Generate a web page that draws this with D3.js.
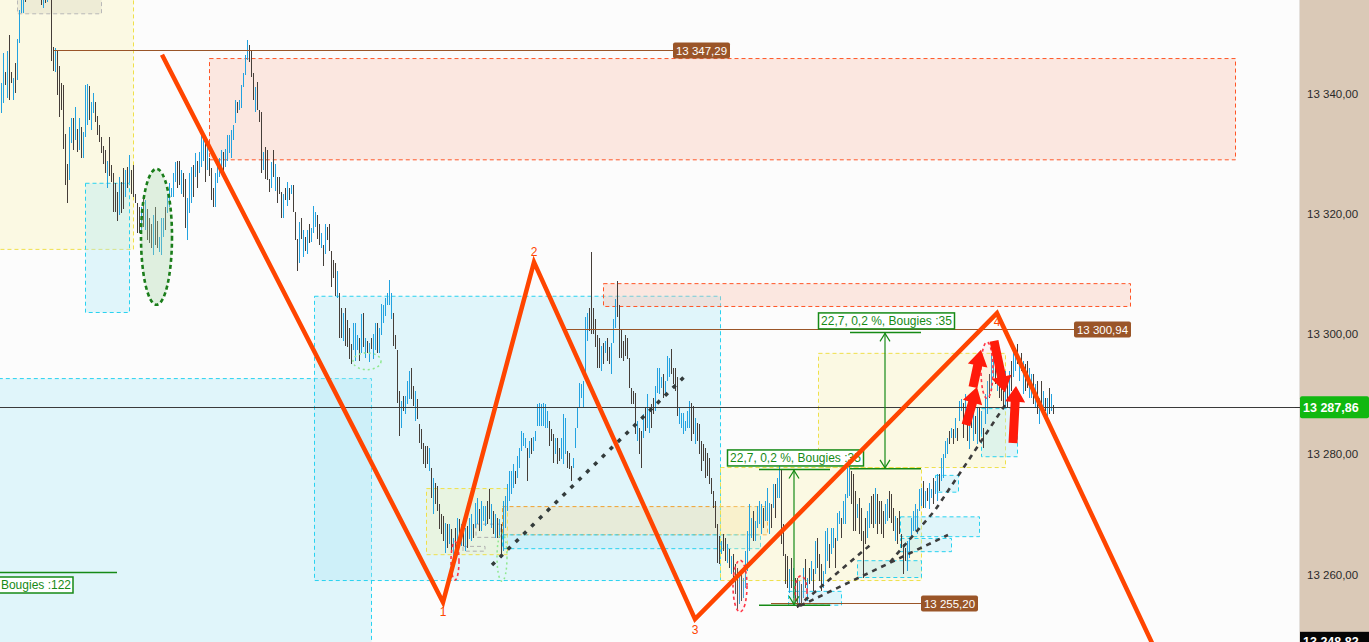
<!DOCTYPE html>
<html><head><meta charset="utf-8">
<script src="https://cdn.jsdelivr.net/npm/d3@7/dist/d3.min.js"></script>
<style>html,body{margin:0;padding:0;background:#fcfcfc;overflow:hidden}svg{display:block;font-family:"Liberation Sans",Arial,sans-serif}</style>
</head><body><svg id="c" width="1369" height="642"></svg>
<script>
// ---- bar data (high / low per bar, u = up bar, d = down bar) ----
const highs=[
13341.8,13346.8,13343.6,13347.1,13349.8,13343.6,13342.6,13345.1,13349.1,13353.9,
13356.4,13356.9,13356.4,13358.4,13360.2,13361.5,13359.8,13360.6,13359.2,13358.7,
13357.3,13356.9,13357.3,13357.3,13358.1,13356.1,13347.8,13347.6,13347.3,13344.6,
13341.8,13341.4,13333.3,13328.4,13334.4,13335.9,13335.9,13337.8,13334.1,13335.9,
13334.4,13333.6,13341.4,13341.6,13341.3,13338.6,13340.1,13338.6,13336.3,13334.8,
13332.8,13331.3,13330.6,13328.9,13332.8,13328.1,13326.8,13325.1,13323.6,13326.1,
13325.3,13327.6,13327.3,13327.8,13329.8,13327.3,13328.1,13323.4,13321.8,13321.1,
13321.1,13322.6,13322.3,13320.9,13319.4,13318.4,13319.8,13321.1,13318.9,13316.1,
13319.3,13319.4,13321.1,13323.4,13325.1,13324.3,13326.8,13328.6,13328.9,13328.9,
13327.3,13326.9,13325.9,13322.6,13326.8,13327.8,13328.1,13330.1,13328.9,13330.3,
13333.4,13332.8,13332.3,13331.4,13329.4,13327.6,13324.3,13326.8,13328.6,13329.4,
13330.6,13330.3,13330.9,13333.1,13333.1,13333.9,13334.8,13338.9,13338.6,13338.9,
13341.4,13343.4,13346.4,13348.9,13348.1,13347.3,13343.4,13341.1,13341.9,13337.3,
13336.9,13330.3,13331.1,13330.6,13325.9,13328.6,13330.6,13328.4,13326.1,13326.1,
13323.6,13323.4,13324.3,13325.3,13324.4,13324.8,13324.8,13320.3,13315.9,13318.6,
13319.4,13317.3,13316.1,13317.3,13318.4,13317.6,13321.4,13320.3,13319.8,13318.4,
13316.9,13314.8,13318.4,13317.8,13318.4,13313.9,13312.3,13311.9,13310.6,13306.8,
13304.4,13303.6,13304.4,13302.3,13301.1,13298.4,13301.9,13301.8,13299.8,13299.4,
13303.4,13303.6,13299.4,13298.9,13298.6,13299.4,13300.1,13301.9,13301.8,13301.1,
13305.1,13304.8,13306.1,13306.8,13309.1,13306.9,13303.6,13299.8,13297.3,13290.6,
13288.9,13289.8,13289.8,13292.3,13293.9,13294.4,13291.4,13290.6,13289.3,13285.1,
13284.3,13281.9,13281.4,13281.4,13281.1,13277.8,13276.1,13275.3,13274.8,13271.8,
13270.1,13269.8,13268.6,13268.4,13268.4,13267.6,13266.1,13267.8,13269.4,13269.3,
13268.4,13267.3,13267.8,13268.1,13269.4,13270.1,13268.4,13271.9,13272.8,13270.9,
13272.3,13271.4,13271.4,13272.3,13274.3,13271.8,13270.6,13270.1,13269.4,13269.3,
13268.4,13272.3,13273.1,13275.1,13277.3,13277.3,13278.4,13277.3,13279.8,13281.1,
13283.9,13283.6,13282.8,13281.1,13282.3,13282.8,13282.9,13283.9,13288.4,13288.6,
13288.4,13288.6,13288.4,13287.3,13285.6,13284.3,13283.4,13282.8,13282.8,13281.1,
13282.8,13286.8,13286.1,13280.6,13280.3,13278.1,13279.4,13284.4,13287.8,13291.9,
13291.8,13292.3,13302.8,13303.6,13304.4,13313.6,13304.4,13302.6,13299.8,13299.4,
13298.1,13298.6,13298.9,13299.3,13297.8,13298.6,13302.6,13305.9,13308.9,13304.8,
13300.9,13298.9,13299.8,13299.4,13296.1,13291.1,13290.6,13290.3,13285.6,13284.4,
13283.9,13286.8,13287.8,13290.1,13287.3,13288.4,13289.4,13291.4,13294.4,13294.4,
13292.8,13293.4,13292.3,13296.4,13296.1,13297.6,13294.3,13294.3,13292.8,13287.8,
13286.9,13286.9,13285.6,13287.3,13288.9,13288.6,13288.1,13286.1,13285.3,13285.1,
13282.3,13281.8,13281.1,13280.3,13279.4,13276.1,13273.9,13272.3,13268.4,13266.4,
13265.6,13266.8,13266.1,13265.1,13264.3,13263.1,13263.4,13261.8,13261.1,13260.1,
13260.3,13259.4,13263.9,13267.3,13271.8,13269.4,13270.6,13268.9,13271.4,13272.3,
13271.8,13271.1,13272.3,13274.4,13271.9,13271.8,13275.1,13275.1,13276.1,13278.1,
13277.6,13268.4,13263.4,13263.1,13260.9,13262.8,13261.1,13259.4,13259.4,13258.9,
13258.4,13261.1,13262.6,13259.4,13261.1,13262.3,13260.9,13265.6,13266.1,13263.4,
13261.8,13260.6,13267.3,13267.8,13265.1,13267.8,13267.8,13266.1,13270.3,13270.6,
13269.4,13272.3,13273.4,13277.8,13278.1,13277.3,13276.8,13273.9,13271.8,13272.8,
13271.1,13267.3,13269.4,13270.6,13271.9,13273.1,13273.4,13274.4,13273.4,13272.3,
13272.3,13270.6,13271.8,13272.6,13273.9,13273.4,13271.1,13269.8,13269.4,13270.6,
13266.8,13265.1,13264.4,13265.6,13266.1,13269.4,13270.6,13271.8,13270.9,13274.3,
13274.4,13275.6,13273.9,13274.4,13275.3,13274.3,13276.1,13275.6,13276.8,13276.8,
13279.4,13280.1,13282.3,13282.8,13283.9,13284.4,13284.3,13286.1,13284.4,13288.9,
13289.3,13288.6,13290.1,13287.3,13287.6,13288.9,13287.8,13286.4,13287.8,13287.8,
13287.3,13284.4,13290.1,13292.3,13293.4,13296.8,13297.3,13297.3,13295.6,13294.4,
13292.8,13290.6,13293.9,13292.3,13293.9,13295.6,13297.3,13296.8,13298.4,13296.1,
13296.8,13295.6,13295.1,13295.6,13294.4,13293.4,13293.4,13291.8,13292.3,13289.4,
13292.3,13290.6,13289.4,13289.4,13291.1,13290.1,13288.3];
const lows=[
13336.8,13338.4,13341.4,13339.3,13338.9,13341.8,13338.9,13340.1,13342.3,13348.4,
13353.4,13353.4,13355.3,13355.9,13356.3,13357.0,13356.2,13357.1,13356.0,13355.8,
13354.8,13354.3,13355.1,13355.3,13355.6,13345.4,13343.8,13343.6,13339.8,13336.1,
13337.3,13330.9,13324.8,13321.9,13325.6,13331.8,13330.6,13332.3,13330.4,13330.6,
13329.3,13329.3,13332.8,13334.8,13335.6,13333.9,13336.8,13335.3,13333.1,13331.9,
13330.1,13328.4,13326.8,13324.3,13326.4,13325.3,13320.3,13320.3,13318.9,13319.8,
13320.1,13320.9,13322.8,13324.4,13325.1,13323.4,13322.8,13321.8,13316.8,13316.9,
13316.8,13317.8,13317.3,13315.6,13315.1,13314.3,13313.1,13314.8,13314.4,13313.6,
13313.1,13316.1,13317.3,13320.1,13321.1,13322.8,13322.8,13325.3,13324.4,13324.8,
13323.4,13322.8,13317.6,13315.6,13320.1,13321.8,13322.8,13326.1,13324.4,13326.8,
13327.8,13328.9,13325.3,13327.3,13326.4,13322.3,13321.1,13321.1,13325.1,13326.1,
13327.6,13326.9,13327.8,13328.9,13330.1,13329.3,13332.3,13335.1,13336.8,13337.3,
13337.6,13341.1,13343.1,13345.6,13345.3,13342.8,13338.9,13336.9,13337.3,13335.3,
13326.8,13327.3,13325.9,13325.6,13323.6,13324.3,13326.1,13323.9,13321.9,13323.4,
13319.4,13319.3,13322.3,13321.4,13322.3,13323.4,13320.3,13315.6,13310.6,13311.8,
13315.9,13312.8,13313.9,13313.4,13315.1,13315.3,13316.8,13317.8,13315.9,13314.8,
13314.4,13311.4,13313.4,13315.6,13313.9,13307.8,13309.4,13306.4,13306.1,13299.4,
13299.4,13298.9,13298.1,13297.8,13295.9,13295.1,13297.3,13295.6,13297.3,13295.6,
13296.9,13297.8,13296.1,13296.8,13295.3,13297.6,13295.9,13297.3,13296.8,13296.9,
13299.8,13301.8,13303.1,13304.8,13304.8,13302.6,13298.1,13297.6,13288.6,13283.1,
13284.4,13287.3,13286.8,13288.4,13289.3,13289.3,13288.1,13285.6,13285.9,13281.9,
13280.9,13278.4,13277.8,13278.4,13277.3,13272.8,13270.1,13271.8,13270.6,13267.6,
13266.8,13265.6,13263.6,13264.4,13265.1,13263.6,13262.3,13263.9,13265.1,13265.6,
13264.8,13264.8,13263.9,13264.4,13265.9,13265.6,13266.1,13267.8,13268.4,13267.3,
13267.3,13268.9,13268.1,13268.4,13269.3,13267.8,13266.8,13266.1,13266.1,13266.1,
13262.8,13263.9,13267.8,13270.6,13272.3,13273.4,13274.4,13275.1,13276.1,13277.8,
13280.6,13281.4,13281.1,13275.6,13279.4,13280.1,13280.6,13282.3,13284.8,13284.8,
13284.8,13284.8,13284.4,13284.4,13281.4,13282.3,13278.6,13280.1,13278.4,13278.9,
13279.3,13278.4,13280.1,13277.8,13277.6,13275.6,13277.8,13281.1,13284.4,13287.8,
13289.4,13287.8,13293.4,13298.9,13300.6,13300.1,13300.1,13297.8,13294.4,13294.4,
13293.9,13295.1,13296.9,13295.6,13295.1,13293.4,13298.6,13301.1,13302.8,13296.1,
13296.1,13295.6,13296.4,13295.9,13291.1,13288.4,13288.4,13283.4,13282.3,13280.1,
13277.8,13282.8,13283.9,13284.4,13283.6,13284.4,13286.8,13287.3,13290.3,13290.1,
13291.1,13289.4,13290.1,13292.3,13292.8,13293.4,13291.8,13290.6,13286.4,13285.1,
13284.4,13283.4,13283.9,13284.4,13284.4,13282.3,13283.4,13281.8,13282.3,13280.1,
13277.3,13278.9,13276.1,13276.4,13275.1,13273.4,13271.1,13267.8,13261.9,13261.8,
13263.4,13263.9,13262.3,13261.9,13261.1,13260.1,13258.9,13256.8,13254.3,13255.1,
13255.6,13256.1,13257.8,13260.6,13263.9,13266.1,13265.6,13265.6,13267.8,13268.4,
13266.8,13267.8,13268.9,13268.9,13266.8,13267.8,13271.1,13269.4,13272.8,13272.8,
13265.1,13263.1,13258.4,13257.8,13256.9,13257.8,13256.1,13255.6,13254.4,13255.3,
13254.8,13256.1,13257.8,13255.6,13258.4,13258.9,13257.3,13260.1,13261.1,13258.9,
13257.3,13257.8,13260.1,13262.3,13261.1,13263.4,13264.4,13261.1,13265.6,13268.4,
13266.1,13268.4,13268.4,13272.8,13273.1,13271.8,13267.3,13267.3,13269.4,13266.8,
13265.6,13259.4,13265.1,13266.1,13267.8,13268.4,13267.8,13268.4,13266.8,13268.4,
13266.8,13266.1,13268.4,13268.9,13269.4,13268.6,13267.3,13265.6,13265.1,13266.8,
13264.4,13260.1,13262.3,13260.6,13262.8,13266.1,13267.3,13267.3,13266.8,13270.6,
13271.4,13271.1,13271.1,13272.3,13270.9,13272.8,13271.8,13273.4,13272.3,13273.9,
13275.6,13276.1,13279.4,13280.1,13281.8,13282.8,13281.8,13282.8,13282.3,13285.6,
13287.3,13282.8,13285.6,13282.3,13280.9,13284.4,13282.3,13283.4,13281.8,13282.3,
13283.4,13281.1,13285.1,13286.8,13289.4,13290.6,13292.8,13291.8,13290.6,13289.4,
13288.9,13287.8,13287.8,13287.8,13288.9,13290.6,13292.8,13293.9,13295.1,13292.3,
13293.9,13290.1,13290.6,13291.1,13289.4,13289.4,13288.4,13287.8,13286.8,13285.1,
13287.8,13286.8,13287.3,13285.6,13286.8,13287.3,13286.8];
const dirs=("uududduduu"+"uuduuddudd"+"dududddudd"+"dddduududu"+"duuuduuddd"+
"dddudddddu"+"ddududdddd"+"ududdduddu"+"uuduuuuudd"+"udduuududu"+
"uududdduuu"+"uduuuuuudu"+"uuuudddudd"+"dudddududd"+"dudududddu"+
"dududuuudd"+"ududddddud"+"dudddduuud"+"udududuudu"+"uuuuuudddd"+
"uduuuddudd"+"ddddududdd"+"ddudududud"+"ududuuduud"+"uuuddududu"+
"duuuuuuduu"+"uuududuuuu"+"uuuudddudd"+"uuuddduuuu"+"uuuudddddd"+
"ududduuudd"+"ddddddddud"+"duduudduuu"+"uduuuddddu"+"uuuuuddudd"+
"dddddddddd"+"uddududddu"+"duuuuuduuu"+"uduuududuu"+"ddddududdu"+
"dududududd"+"duuuduuduu"+"duuuudddud"+"ddduuddudd"+"dduudddudd"+
"ddduuuuuuu"+"ududuuduud"+"uuuudududu"+"ududududud"+"uduuduudud"+
"ddududuudu"+"dudduududu"+"dududud").split("");

// ---- axis / price labels ----
const yTicks=[13340,13320,13300,13280,13260];
const lastPrice=13287.86;
const bottomPrice=13248.82;

// ---- zones: bar-index range, price range, kind ----
const zoneX0=[-5,156.35,-5,7.85,41.85,103.85,300.85,212.35,250.35,250.35,359.35,408.35,393.35,427.85,449.35,449.35,466.85,489.85];
const zoneX1=[184.85,359.35,65.85,49.85,63.85,616.85,564.35,252.85,382.85,379.35,459.85,501.85,419.85,459.85,488.85,474.85,478.35,507.85];
const zoneTop=[13292.7,13306.4,13360,13360,13325.2,13345.95,13308.5,13274.4,13271.4,13266.7,13277.9,13296.9,13257.3,13262.4,13269.7,13266.1,13276.6,13287.7];
const zoneBot=[13240,13259.1,13314.2,13353.4,13303.7,13329.1,13304.7,13263.4,13266.7,13264.4,13259.1,13277.9,13255.0,13259.6,13266.4,13263.9,13273.8,13279.7];
const zoneKind=["cyan","cyan","yellow","gray","cyan","salmon","salmon","yellow","orange","cyan","yellow","yellow","cyan","cyan","cyan","cyan","cyan","cyan"];
const grayX0=[237.35,230.85], grayX1=[249.35,241.85], grayTop=[13268.4,13264.7], grayBot=[13266.2,13263.9];

// ---- ellipses: centre (index, price), radii (index units, price units) ----
const ellCx=[77.6,182.85,226.85,250.35,369.35,399.85,492.85];
const ellCy=[13316.2,13295.5,13262.3,13262.9,13258.1,13257.3,13294.0];
const ellRx=[7.75,7,2,2.5,3.5,3,3];
const ellRy=[11.3,1.4,3.2,4,4.3,2.5,4.7];
const ellKind=["green","lightgreen","red","lightgreen","red","red","red"];

// ---- zigzag ----
const zigIdx=[80.35,220.85,266.35,346.85,497.85,579.35];
const zigPrice=[13346.5,13255.4,13312.0,13252.6,13303.5,13245.8];
const zigLabels=["","1","2","3","4",""];

// ---- price levels (brown) ----
const levelPrice=[13347.29,13300.94,13255.20];
const levelI0=[26.35,281.85,384.85];
const levelI1=[335.85,536.35,459.85];

// ---- measurements ----
const measLow=[13254.9,13277.6];
const measHigh=[13277.5,13300.3];
const measI0=[378.85,424.35], measI1=[414.35,459.85], measIv=[396.35,441.85], measLabelI=[362.85,408.35];
const measText="22,7, 0,2 %, Bougies :35";
const bougiesPrice=13260.4, bougiesI1=57.85, bougiesText="Bougies :122";

// ---- trend lines ----
const dotIdx=[245.35,342.35], dotPrice=[13261.6,13293.2];
const dashA_I=[397.85,434.35], dashA_P=[13254.6,13264.9];
const dashB_I=[399.35,473.35], dashB_P=[13254.8,13266.6];
const dashC_I=[444.35,466.85,480.35,501.85], dashC_P=[13262.1,13270.7,13277.4,13288.2];

// ---- red arrows: tail/head (index, price) ----
const arrTI=[482.35,485.85,496.35,505.85], arrTP=[13284.9,13291.2,13298.9,13281.9];
const arrHI=[487.85,489.85,501.85,507.35], arrHP=[13291.2,13297.4,13290.3,13291.4];

const W=1369,H=642,plotW=1299;
const x=d3.scaleLinear().domain([0,526]).range([1.3,1053.3]);
const y=d3.scaleLinear().domain([13248.79,13355.61]).range([642,0]);
const loc=d3.formatLocale({decimal:",",thousands:" ",grouping:[3],currency:["",""]});
const fmt=loc.format(",.2f");

const svg=d3.select("#c");
svg.append("rect").attr("width",W).attr("height",H).attr("fill","#fcfcfc");
svg.append("defs").append("clipPath").attr("id","plot").append("rect").attr("width",plotW).attr("height",H);
const g=svg.append("g").attr("clip-path","url(#plot)");

const zStyle={
 cyan:{fill:"rgba(175,232,248,0.36)",stroke:"#28d2f0"},
 yellow:{fill:"rgba(250,242,175,0.32)",stroke:"#efe04a"},
 salmon:{fill:"rgba(250,195,175,0.36)",stroke:"#ff5526"},
 gray:{fill:"rgba(215,212,190,0.35)",stroke:"#b9b9b9"},
 orange:{fill:"rgba(245,215,150,0.32)",stroke:"#f0a030"}};
g.selectAll("rect.zone").data(d3.range(zoneX0.length)).join("rect").attr("class","zone")
 .attr("x",i=>x(zoneX0[i])+0.5).attr("y",i=>y(zoneTop[i])+0.5)
 .attr("width",i=>x(zoneX1[i])-x(zoneX0[i])).attr("height",i=>y(zoneBot[i])-y(zoneTop[i]))
 .attr("fill",i=>zStyle[zoneKind[i]].fill).attr("stroke",i=>zStyle[zoneKind[i]].stroke)
 .attr("stroke-width",1).attr("stroke-dasharray","4,3");
g.selectAll("rect.gz").data(d3.range(grayX0.length)).join("rect").attr("class","gz")
 .attr("x",i=>x(grayX0[i])).attr("y",i=>y(grayTop[i])).attr("width",i=>x(grayX1[i])-x(grayX0[i]))
 .attr("height",i=>y(grayBot[i])-y(grayTop[i])).attr("fill","none").attr("stroke","#b0b0b0").attr("stroke-dasharray","4,3");

// bars
g.append("g").attr("shape-rendering","crispEdges").selectAll("line.bar").data(d3.range(highs.length)).join("line").attr("class","bar")
 .attr("x1",i=>Math.round(x(i))+0.5).attr("x2",i=>Math.round(x(i))+0.5)
 .attr("y1",i=>Math.round(y(highs[i]))).attr("y2",i=>Math.round(y(lows[i])))
 .attr("stroke",i=>dirs[i]==="u"?"#22a2e0":"#453e39").attr("stroke-width",1);

// ellipses
const eStyle={green:{fill:"rgba(170,215,170,0.35)",stroke:"#1a7d1a",w:2.6,dash:"4,3"},
 lightgreen:{fill:"none",stroke:"#8fe88f",w:1.5,dash:"2,3"},
 red:{fill:"rgba(255,200,200,0.15)",stroke:"#ff3344",w:1.6,dash:"3,3"}};
g.selectAll("ellipse").data(d3.range(ellCx.length)).join("ellipse")
 .attr("cx",i=>x(ellCx[i])).attr("cy",i=>y(ellCy[i]))
 .attr("rx",i=>x(ellRx[i])-x(0)).attr("ry",i=>y(13300-ellRy[i])-y(13300))
 .attr("fill",i=>eStyle[ellKind[i]].fill).attr("stroke",i=>eStyle[ellKind[i]].stroke)
 .attr("stroke-width",i=>eStyle[ellKind[i]].w).attr("stroke-dasharray",i=>eStyle[ellKind[i]].dash);

// brown levels
const brown="#9a5528";
levelPrice.forEach((p,i)=>{
 const yy=Math.round(y(p))+0.5;
 g.append("line").attr("x1",x(levelI0[i])).attr("x2",x(levelI1[i])).attr("y1",yy).attr("y2",yy).attr("stroke",brown).attr("stroke-width",1);
 g.append("rect").attr("x",x(levelI1[i])).attr("y",yy-8).attr("width",57).attr("height",16).attr("rx",2).attr("fill",brown);
 g.append("text").attr("x",x(levelI1[i])+28.5).attr("y",yy+4).attr("text-anchor","middle").attr("font-size",11.5).attr("fill","#fff").text(fmt(p));
});

// current price line
const yl=Math.round(y(lastPrice))+0.5;
g.append("line").attr("x1",0).attr("x2",plotW).attr("y1",yl).attr("y2",yl).attr("stroke","#3a3a3a").attr("stroke-width",1);

// measurements
const green="#168a16";
measLow.forEach((lo,i)=>{
 const yT=y(measHigh[i]), yB=y(lo), xv=x(measIv[i]);
 g.append("line").attr("x1",x(measI0[i])).attr("x2",x(measI1[i])).attr("y1",yT).attr("y2",yT).attr("stroke",green).attr("stroke-width",1.5);
 g.append("line").attr("x1",x(measI0[i])).attr("x2",x(measI1[i])).attr("y1",yB).attr("y2",yB).attr("stroke",green).attr("stroke-width",1.5);
 g.append("line").attr("x1",xv).attr("x2",xv).attr("y1",yT).attr("y2",yB).attr("stroke",green).attr("stroke-width",1.2);
 g.append("path").attr("d",`M${xv-5},${yT+9}L${xv},${yT+1}L${xv+5},${yT+9}M${xv-5},${yB-9}L${xv},${yB-1}L${xv+5},${yB-9}`).attr("fill","none").attr("stroke",green).attr("stroke-width",1.2);
 const lx=x(measLabelI[i]);
 g.append("rect").attr("x",lx+0.5).attr("y",yT-19.5).attr("width",136).attr("height",16).attr("fill","#fff").attr("stroke",green).attr("stroke-width",1.5);
 g.append("text").attr("x",lx+68.5).attr("y",yT-7.5).attr("text-anchor","middle").attr("font-size",12).attr("fill",green).text(measText);
});
{
 const yb=Math.round(y(bougiesPrice))+0.5;
 g.append("line").attr("x1",0).attr("x2",x(bougiesI1)).attr("y1",yb).attr("y2",yb).attr("stroke",green).attr("stroke-width",1.5);
 g.append("rect").attr("x",-4).attr("y",yb+4.5).attr("width",77).attr("height",16).attr("fill","#fff").attr("stroke",green).attr("stroke-width",1.5);
 g.append("text").attr("x",71).attr("y",yb+16.5).attr("text-anchor","end").attr("font-size",12).attr("fill",green).text(bougiesText);
}

// trend lines
const ln=d3.line().x(d=>x(d[0])).y(d=>y(d[1]));
g.append("path").attr("d",ln(d3.zip(dotIdx,dotPrice))).attr("fill","none").attr("stroke","#333b3b").attr("stroke-width",3.5).attr("stroke-dasharray","4,7");
[[dashA_I,dashA_P],[dashB_I,dashB_P],[dashC_I,dashC_P]].forEach(([I,P])=>{
 g.append("path").attr("d",ln(d3.zip(I,P))).attr("fill","none").attr("stroke","#3c3c3c").attr("stroke-width",2.6).attr("stroke-dasharray","5,5");
});

// zigzag
const zig="#ff4500";
g.append("path").attr("d",ln(d3.zip(zigIdx,zigPrice))).attr("fill","none").attr("stroke",zig).attr("stroke-width",4.5).attr("stroke-linejoin","miter");
const lblDy=[0,14,-6,15,13,0];
zigLabels.forEach((t,i)=>{ if(!t) return;
 g.append("text").attr("x",x(zigIdx[i])).attr("y",y(zigPrice[i])+lblDy[i]).attr("text-anchor","middle").attr("font-size",12).attr("fill",zig).text(t);
});

// red arrows
function arrowPts(tx,ty,hx,hy){const dx=hx-tx,dy=hy-ty,L=Math.hypot(dx,dy),ux=dx/L,uy=dy/L,nx=-uy,ny=ux,sw=4.5,hw=10,hl=16;const bx=hx-ux*hl,by=hy-uy*hl;
 return [[tx+nx*sw,ty+ny*sw],[bx+nx*sw,by+ny*sw],[bx+nx*hw,by+ny*hw],[hx,hy],[bx-nx*hw,by-ny*hw],[bx-nx*sw,by-ny*sw],[tx-nx*sw,ty-ny*sw]];}
arrTI.forEach((ti,i)=>{
 const pts=arrowPts(x(ti),y(arrTP[i]),x(arrHI[i]),y(arrHP[i]));
 g.append("polygon").attr("points",pts.map(p=>p.join(",")).join(" ")).attr("fill","#ff1a0a");
});

// right axis
svg.append("rect").attr("x",plotW).attr("y",0).attr("width",W-plotW).attr("height",H).attr("fill","#dac9b7");
svg.append("line").attr("x1",plotW+0.5).attr("x2",plotW+0.5).attr("y1",0).attr("y2",H).attr("stroke","#e4e0dc").attr("stroke-width",1);
svg.selectAll("text.tick").data(yTicks).join("text").attr("class","tick")
 .attr("x",1307).attr("y",d=>y(d)+4).attr("font-size",11.5).attr("fill","#2a2a2a").text(d=>fmt(d));
const yc=y(lastPrice);
svg.append("line").attr("x1",plotW-4).attr("x2",plotW+1).attr("y1",yl).attr("y2",yl).attr("stroke","#333");
svg.append("rect").attr("x",plotW+1).attr("y",yc-11).attr("width",69).attr("height",22).attr("rx",2).attr("fill","#10b810");
svg.append("text").attr("x",plotW+4).attr("y",yc+4.5).attr("font-size",12.5).attr("font-weight","bold").attr("fill","#fff").text(fmt(lastPrice));
const yb2=y(bottomPrice);
svg.append("rect").attr("x",plotW+1).attr("y",yb2-10).attr("width",69).attr("height",22).attr("fill","#050505");
svg.append("text").attr("x",plotW+4).attr("y",yb2+4.5).attr("font-size",12.5).attr("font-weight","bold").attr("fill","#fff").text(fmt(bottomPrice));
</script></body></html>
